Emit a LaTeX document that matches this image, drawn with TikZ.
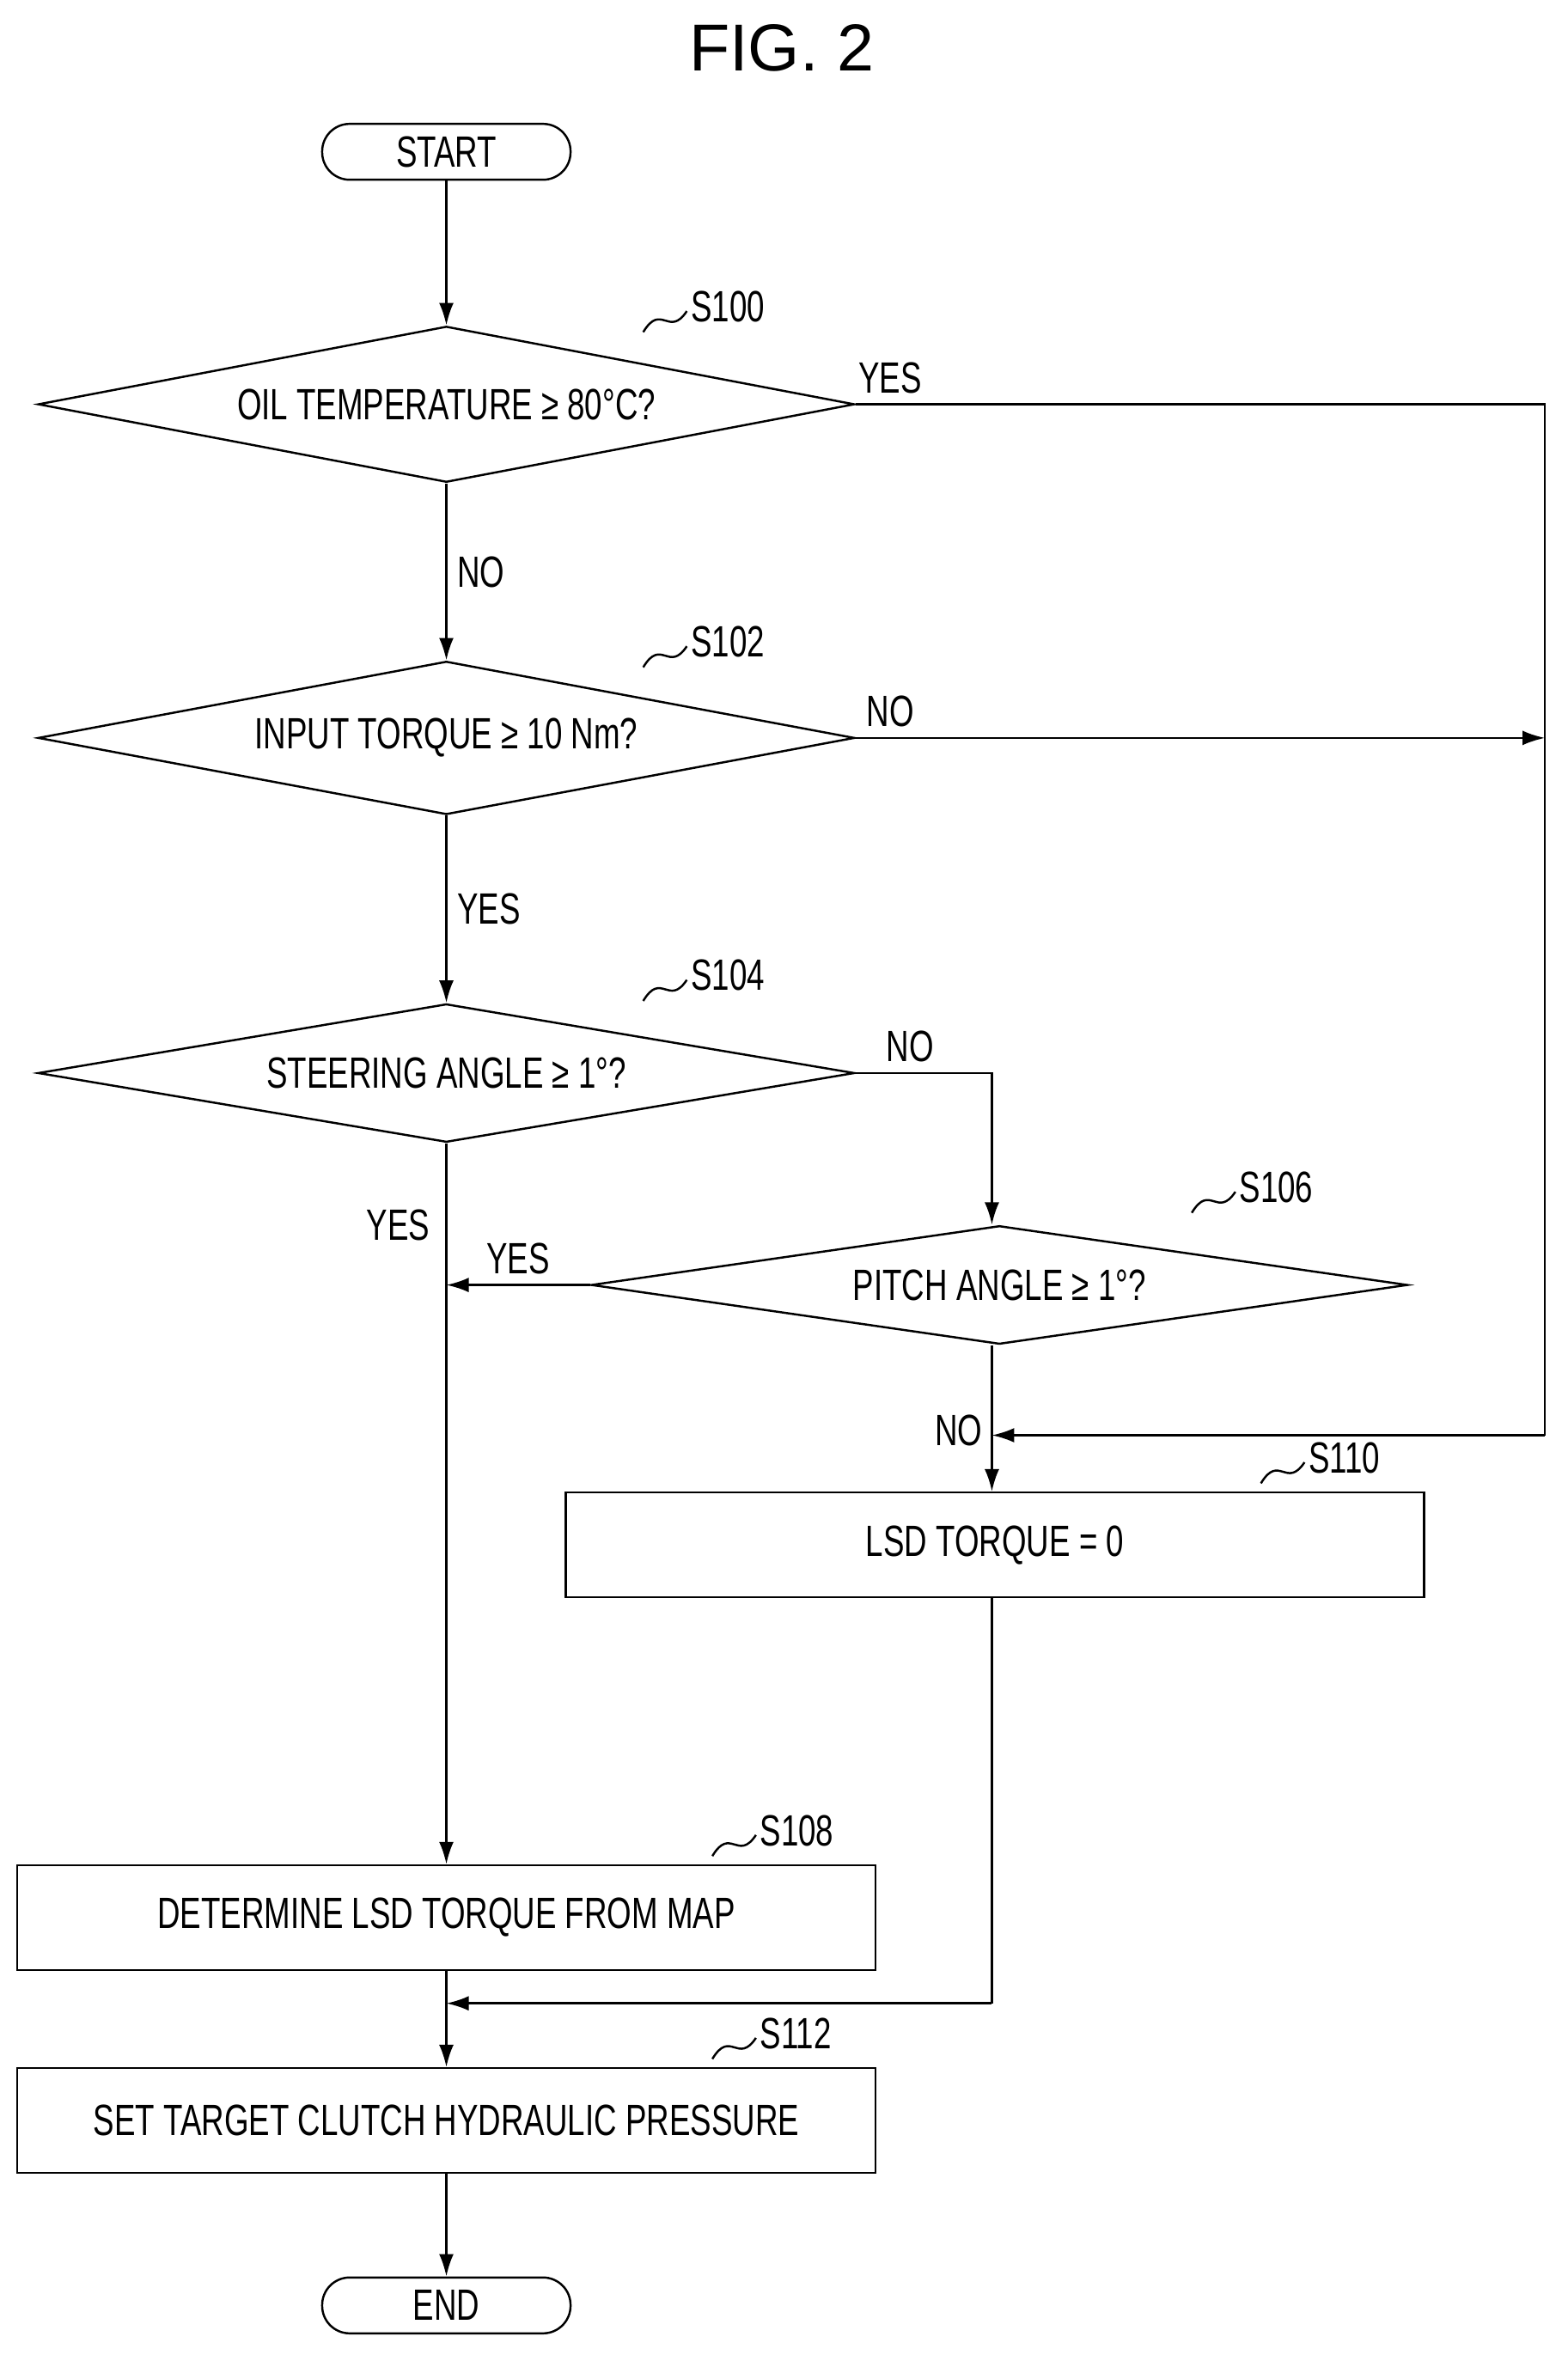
\documentclass[tikz,border=0pt]{standalone}
\usepackage{fontspec}
\setmainfont{Liberation Sans}[FakeStretch=0.72]
\newfontfamily\titlefont{Liberation Sans}
\usetikzlibrary{shapes.geometric, arrows.meta}
\newcommand{\stepmark}[3]{%
  \draw (#1-29,#2+14) .. controls (#1-17,#2-6) and (#1-12,#2+18) .. (#1,#2);
  \node[anchor=west, inner sep=1pt] at (#1,#2-3) {#3};}

\begin{document}
\begin{tikzpicture}[x=0.01749cm, y=-0.01749cm, line width=0.7pt,
    every node/.style={font=\fontsize{14.5}{16}\selectfont},
    term/.style={draw, rounded corners=0.32cm, minimum width=2.89cm, minimum height=0.65cm, inner sep=0},
    decision/.style={draw, diamond, aspect=3.35, minimum width=9.5cm, inner sep=0},
    process/.style={draw, rectangle, minimum width=9.99cm, minimum height=1.22cm, inner sep=0},
    flow/.style={-{Latex[length=0.26cm, width=0.17cm]}}]
    \useasboundingbox (0,0) rectangle (1043,1571);
    \node[font=\titlefont\fontsize{22}{26}\selectfont] (title) at (520,32) {FIG. 2};

    \node[term] (start) at (297,101) {START};
    \node[decision] (d100) at (297,269) {OIL TEMPERATURE ≥ 80°C?};
    \node[decision] (d102) at (297,491) {INPUT TORQUE ≥ 10 Nm?};
    \node[decision] (d104) at (297,714) {STEERING ANGLE ≥ 1°?};
    \node[decision] (d106) at (665,855) {PITCH ANGLE ≥ 1°?};
    \node[process] (s110) at (662,1028) {LSD TORQUE = 0};
    \node[process] (s108) at (297,1276) {DETERMINE LSD TORQUE FROM MAP};
    \node[process] (s112) at (297,1411) {SET TARGET CLUTCH HYDRAULIC PRESSURE};
    \node[term] (end) at (297,1534) {END};

    \coordinate (rtop) at (1028,269);
    \coordinate (rmid) at (1028,491);
    \coordinate (rbot) at (1028,955);
    \coordinate (jmid) at (660,955);
    \coordinate (jbot) at (297,1333);

    % step labels
    \stepmark{457}{207}{S100}
    \stepmark{457}{430}{S102}
    \stepmark{457}{652}{S104}
    \stepmark{822}{793}{S106}
    \stepmark{868}{973}{S110}
    \stepmark{503}{1221}{S108}
    \stepmark{503}{1356}{S112}

    \draw[flow] (start) -- (d100);
    \draw[flow] (d100) -- node[right] {NO} (d102);
    \draw[flow] (d102) -- node[right] {YES} (d104);
    \draw[flow] (d104.east) -| node[pos=0.2, above] {NO} (d106.north -| 660,0);
    \draw[flow] (d104.south) -- (s108);
    \node (yesa) at (265,815) {YES};
    \draw[flow] (d106.west) -- node[above] {YES} (297,855);
    \draw[flow] (d106.south -| 660,0) -- (s110.north -| 660,0);
    \node (noa) at (638,952) {NO};
    \draw (d100.east) -- node[pos=0.05, above] {YES} (rtop) -- (rbot);
    \draw[flow] (rbot) -- (jmid);
    \draw[flow] (d102.east) -- node[pos=0.05, above] {NO} (rmid);
    \draw (s110.south -| 660,0) -- (660,1333);
    \draw[flow] (660,1333) -- (jbot);
    \draw[flow] (s108) -- (s112);
    \draw[flow] (s112) -- (end);
\end{tikzpicture}
\end{document}
